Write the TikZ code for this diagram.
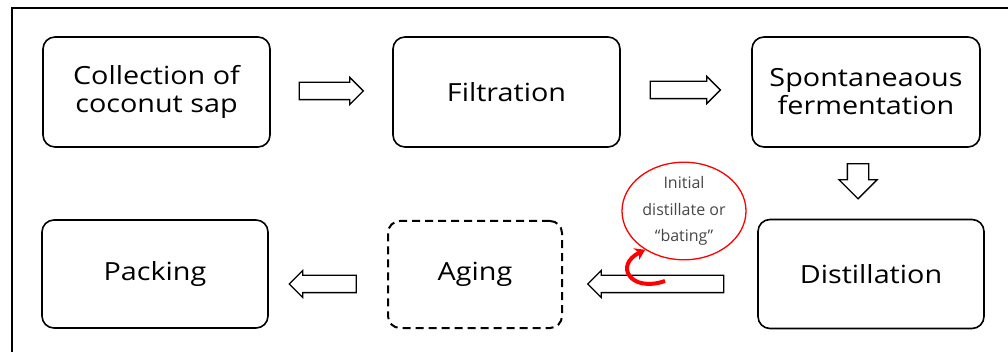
\documentclass[tikz,border=0pt]{standalone}
\usepackage{fontspec}
\setmainfont{Open Sans}
\newfontfamily\boxfont[FakeStretch=1.15]{Open Sans}
\usetikzlibrary{shapes.arrows,shapes.geometric,arrows.meta}

\tikzset{
  stepbox/.style={draw, line width=1.6pt, rounded corners=12pt, minimum width=227pt,
    minimum height=110pt, align=center, font=\boxfont\fontsize{25}{28}\selectfont},
  blockarrow/.style={single arrow, draw, line width=1.3pt, fill=white, inner xsep=0pt,
    inner ysep=8pt, minimum height=#1, single arrow head extend=5pt,
    single arrow head indent=0pt},
}

\begin{document}
\begin{tikzpicture}[x=1pt,y=-1pt]
\useasboundingbox (0,0) rectangle (1008,352);
\draw[line width=1.6pt] (12,352) -- (12,8) -- (1008,8);
% top row
\node[stepbox] (collect) at (156.5,92) {Collection of\\coconut sap};
\node[stepbox] (filt) at (506.5,92) {Filtration};
\node[stepbox, minimum width=228pt] (ferm) at (866,92) {Spontaneaous\\fermentation};
% bottom row
\node[stepbox, minimum width=226pt, minimum height=109pt] (dist) at (871,274) {Distillation};
\node[stepbox, minimum width=174pt, minimum height=107pt, dash pattern=on 8pt off 5pt,
  line width=2pt] (aging) at (475,274.5) {Aging};
\node[stepbox, minimum width=226pt, minimum height=108pt] (pack) at (155,274) {Packing};
% arrows
\node[blockarrow=64pt] (a1) at (327,91) {};
\node[blockarrow=70pt] (a2) at (681,90) {};
\node[blockarrow=35pt, rotate=-90, inner ysep=10pt, single arrow head extend=8.5pt] (a3) at (858,176) {};
\node[blockarrow=136pt, rotate=180] (a4) at (660,284) {};
\node[blockarrow=67pt, rotate=180] (a5) at (327,284) {};
% first cut
\node[ellipse, draw=red, line width=1.3pt, minimum width=124pt, minimum height=90pt,
  inner sep=0pt, align=center, text=black!72, font=\fontsize{16}{26.5}\selectfont]
  (bating) at (684,211) {Initial\\distillate or\\“bating”};
\coordinate (cut) at (665,281);
\draw[red, line width=4pt, -{Stealth[length=10pt,width=13pt]}]
  (cut) .. controls (630,293) and (614,265) .. (bating.225);
\end{tikzpicture}
\end{document}
